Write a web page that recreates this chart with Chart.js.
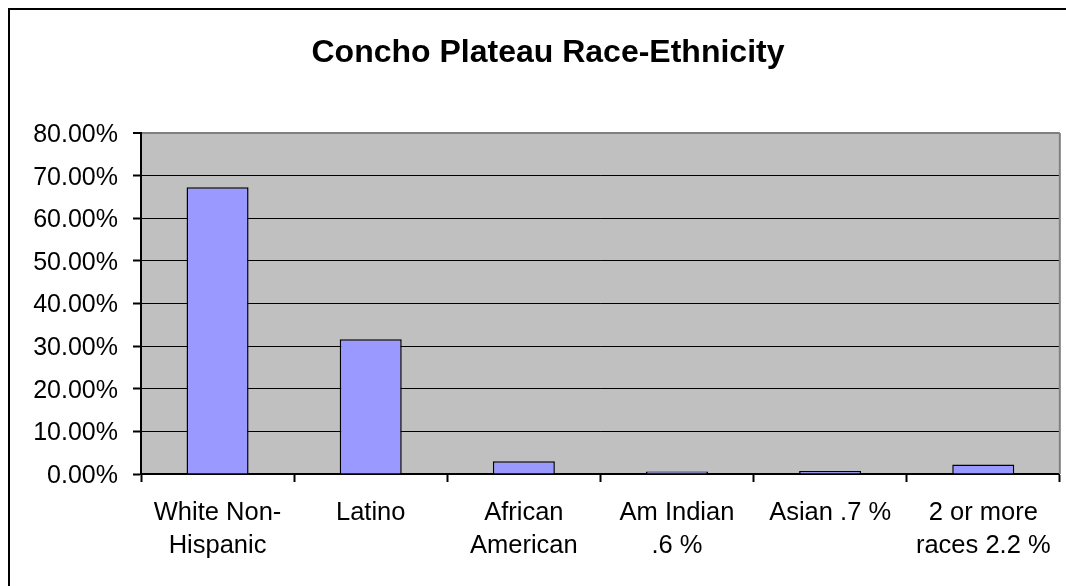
<!DOCTYPE html>
<html>
<head>
<meta charset="utf-8">
<title>Concho Plateau Race-Ethnicity</title>
<script src="https://cdn.jsdelivr.net/npm/chart.js@4/dist/chart.umd.min.js"></script>
<style>
  html, body { margin: 0; padding: 0; background: #ffffff; }
  #wrap { width: 1066px; height: 586px; position: relative; }
</style>
</head>
<body>
<div id="wrap"><canvas id="chart" width="1066" height="586"></canvas></div>
<script>
// Population shares by group (fractions of total)
const categories = [
  ["White Non-", "Hispanic"],
  "Latino",
  ["African", "American"],
  ["Am Indian", ".6 %"],
  "Asian .7 %",
  ["2 or more", "races 2.2 %"]
];
const shares = [0.673, 0.316, 0.030, 0.006, 0.007, 0.022];
const yMin = 0;
const yMax = 0.8;
const yStep = 0.1;
const chartTitle = 'Concho Plateau Race-Ethnicity';

const FONT = "'Liberation Sans', Arial, Helvetica, sans-serif";

// Gray plot background, gray right edge, the black page frame (left/top) and the title
const plotFrame = {
  id: 'plotFrame',
  beforeDraw(chart) {
    const { ctx, chartArea: a } = chart;
    ctx.save();
    ctx.fillStyle = '#C0C0C0';
    ctx.fillRect(a.left, a.top, a.right - a.left, a.bottom - a.top);
    ctx.restore();
  },
  afterDraw(chart) {
    const { ctx, chartArea: a } = chart;
    ctx.save();
    ctx.strokeStyle = '#808080';
    ctx.lineWidth = 2;
    ctx.beginPath();
    ctx.moveTo(a.right, a.top);
    ctx.lineTo(a.right, a.bottom);
    ctx.stroke();

    ctx.strokeStyle = '#000000';
    ctx.lineWidth = 2;
    ctx.beginPath();
    ctx.moveTo(9, chart.height + 10);
    ctx.lineTo(9, 9);
    ctx.lineTo(chart.width + 10, 9);
    ctx.stroke();

    // title, centred on the full frame width
    ctx.fillStyle = '#000000';
    ctx.font = 'bold 32px ' + FONT;
    ctx.textAlign = 'center';
    ctx.textBaseline = 'alphabetic';
    ctx.fillText(chartTitle, 548, 62);
    ctx.restore();
  }
};

new Chart(document.getElementById('chart'), {
  type: 'bar',
  data: {
    labels: categories,
    datasets: [{
      data: shares,
      backgroundColor: '#9999FF',
      borderColor: '#000000',
      borderWidth: 1.5,
      borderSkipped: 'bottom',
      categoryPercentage: 1.0,
      barPercentage: 0.405
    }]
  },
  options: {
    responsive: false,
    animation: false,
    layout: { padding: { left: 0, right: 5, top: 133, bottom: 0 } },
    plugins: {
      legend: { display: false },
      tooltip: { enabled: false },
      title: { display: false }
    },
    scales: {
      x: {
        offset: true,
        grid: {
          offset: true,
          drawOnChartArea: false,
          drawTicks: true,
          tickLength: 8,
          tickColor: '#000000',
          tickWidth: 2
        },
        border: { display: true, color: '#000000', width: 2 },
        ticks: {
          color: '#000000',
          font: { family: FONT, size: 25.5, lineHeight: 1.28 },
          padding: 15,
          maxRotation: 0,
          autoSkip: false
        },
        afterFit(scale) { scale.height = 112; }
      },
      y: {
        min: yMin,
        max: yMax,
        grid: {
          color: (c) => (c.tick && Math.abs(c.tick.value - yMax) < 1e-9) ? '#808080' : '#000000',
          lineWidth: (c) => (c.tick && Math.abs(c.tick.value - yMax) < 1e-9) ? 2 : 1,
          tickLength: 8,
          tickColor: '#000000',
          tickWidth: 2
        },
        border: { display: true, color: '#000000', width: 2 },
        ticks: {
          stepSize: yStep,
          color: '#000000',
          font: { family: FONT, size: 25 },
          padding: 15,
          labelOffset: 2,
          callback: (v) => (v * 100).toFixed(2) + '%'
        },
        afterFit(scale) { scale.width = 141; }
      }
    }
  },
  plugins: [plotFrame]
});
</script>
</body>
</html>
